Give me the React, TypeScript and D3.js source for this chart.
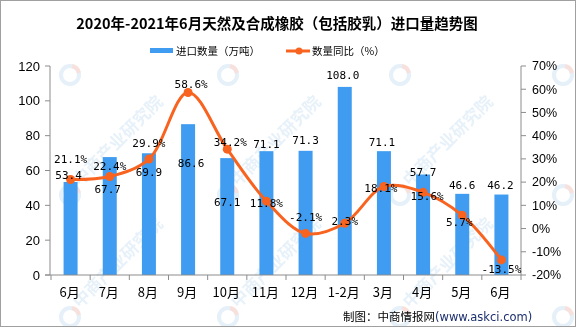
import React from "react";
import * as d3 from "d3";

const categories = ["6月", "7月", "8月", "9月", "10月", "11月", "12月", "1-2月", "3月", "4月", "5月", "6月"];
const importVolume = [53.4, 67.7, 69.9, 86.6, 67.1, 71.1, 71.3, 108.0, 71.1, 57.7, 46.6, 46.2];
const yoyPct = [21.1, 22.4, 29.9, 58.6, 34.2, 11.8, -2.1, 2.3, 18.1, 15.6, 5.7, -13.5];
const leftTicks = [0, 20, 40, 60, 80, 100, 120];
const rightTicks = [-20, -10, 0, 10, 20, 30, 40, 50, 60, 70];
// label placement offsets (px) to mimic reference anti-overlap placement
const barLabelDy = [-7, 32, 19, 39, 44, -7, -11, -12, -9, -2, -9, -9];
const lineLabelDy = [-20, -10, -16, -8, -7, 2, -16, -2, 2, 4, 7, 9];
const lineLabelDx = [0, 0, 0, 3, 3, 0, 0, 0, -3, 4, -3, 0];
const barLabelDx = [-2, -2, 0, 3, 0, 0, 0, -2, -2, 0, 0, -1];

const W = 576;
const H = 327;
const M = { left: 50, right: 521, top: 66, bottom: 275 };
const BLUE = "#3f9cf0";
const ORANGE = "#f8631f";
const AXIS = "#8c8c8c";

export default function App() {
  const x = d3.scaleBand<string>().domain(categories.map((c, i) => i + "")).range([M.left + 1, M.right]).padding(0);
  const yL = d3.scaleLinear().domain([0, 120]).range([M.bottom, M.top]);
  const yR = d3.scaleLinear().domain([-20, 70]).range([M.bottom, M.top]);
  const bw = 14;
  const cx = (i: number) => (x(i + "") as number) + x.bandwidth() / 2;

  const line = d3
    .line<number>()
    .x((_, i) => cx(i))
    .y((d) => yR(d))
    .curve(d3.curveCatmullRom.alpha(0.5));

  const wmRows = [75, 195, 317];
  const wmCols = [70, 228, 400, 563];
  const logos: { x: number; y: number; txt: boolean }[] = [];
  wmRows.forEach((r) =>
    wmCols.forEach((c) => logos.push({ x: c, y: r, txt: r > 100 && c < 500 }))
  );

  const monoFont = "'DejaVu Sans Mono', monospace";
  const cjk = "'Noto Sans CJK SC', sans-serif";

  return (
    <div style={{ position: "absolute", left: 0, top: 0 }}>
      <svg width={W} height={H} style={{ display: "block", background: "#fff" }}>
        {/* watermarks */}
        <g opacity={0.55}>
          {logos.map((p, i) => (
            <g key={i} transform={`translate(${p.x},${p.y})`}>
              <circle cx={0} cy={0} r={9} fill="none" stroke="#cfe3f4" strokeWidth={4} />
              <path d="M 2 -9 A 9 9 0 0 1 9 -2" stroke="#f3c9c0" strokeWidth={4} fill="none" />
              {p.txt && (
                <text
                  transform="translate(10,-8) rotate(-45)"
                  fontFamily={cjk}
                  fontSize={17}
                  fontWeight="bold"
                  fill="#d4e6f5"
                >
                  中商产业研究院
                </text>
              )}
            </g>
          ))}
        </g>

        {/* title */}
        <text x={277} y={29} textAnchor="middle" fontFamily={cjk} fontWeight="bold" fontSize={14.5} fill="#000">
          2020年-2021年6月天然及合成橡胶（包括胶乳）进口量趋势图
        </text>

        {/* legend */}
        <rect x={150} y={48} width={23} height={5} fill={BLUE} />
        <text x={176} y={55} fontFamily={cjk} fontSize={10.5} fill="#000">
          进口数量（万吨）
        </text>
        <line x1={286} x2={310} y1={51} y2={51} stroke={ORANGE} strokeWidth={3} />
        <circle cx={299} cy={51} r={3.5} fill={ORANGE} />
        <text x={312} y={55} fontFamily={cjk} fontSize={10.5} fill="#000">
          数量同比（%）
        </text>

        {/* bars */}
        {importVolume.map((v, i) => (
          <rect key={i} x={cx(i) - bw / 2} y={yL(v)} width={bw} height={M.bottom - yL(v)} fill={BLUE} />
        ))}

        {/* axes */}
        <line x1={M.left} x2={M.left} y1={M.top} y2={M.bottom} stroke={AXIS} />
        {leftTicks.map((t) => (
          <g key={t}>
            <line x1={M.left - 5} x2={M.left} y1={yL(t)} y2={yL(t)} stroke={AXIS} />
            <text x={M.left - 10} y={yL(t)} dy="0.35em" textAnchor="end" fontFamily="'Liberation Sans', Arial" fontSize={13} fill="#000">
              {t}
            </text>
          </g>
        ))}
        <line x1={M.right} x2={M.right} y1={M.top} y2={M.bottom} stroke={AXIS} />
        {rightTicks.map((t) => (
          <g key={t}>
            <line x1={M.right} x2={M.right + 5} y1={yR(t)} y2={yR(t)} stroke={AXIS} />
            <text x={M.right + 11} y={yR(t)} dy="0.35em" textAnchor="start" fontFamily="'Liberation Sans', Arial" fontSize={12.5} fill="#000">
              {t}%
            </text>
          </g>
        ))}
        <line x1={M.left - 5} x2={M.right} y1={M.bottom} y2={M.bottom} stroke={AXIS} />
        {categories.map((_, i) => (
          <line key={i} x1={x(i + "") as number} x2={x(i + "") as number} y1={M.bottom} y2={M.bottom + 5} stroke={AXIS} />
        ))}
        <line x1={M.right} x2={M.right} y1={M.bottom} y2={M.bottom + 5} stroke={AXIS} />
        {categories.map((c, i) => (
          <text key={i} x={cx(i) - 1} y={297} textAnchor="middle" fontFamily={cjk} fontSize={13} fill="#000">
            {c}
          </text>
        ))}

        {/* line */}
        <path d={line(yoyPct) || ""} fill="none" stroke={ORANGE} strokeWidth={3} />
        {yoyPct.map((v, i) => (
          <circle key={i} cx={cx(i)} cy={yR(v)} r={4.5} fill={ORANGE} />
        ))}

        {/* bar labels */}
        {importVolume.map((v, i) => (
          <text
            key={i}
            x={cx(i) + barLabelDx[i]}
            y={yL(v) + barLabelDy[i]}
            dy="0.35em"
            textAnchor="middle"
            fontFamily={monoFont}
            fontSize={11}
            fill="#000"
          >
            {v.toFixed(1)}
          </text>
        ))}
        {/* line labels */}
        {yoyPct.map((v, i) => (
          <text
            key={i}
            x={cx(i) + lineLabelDx[i]}
            y={yR(v) + lineLabelDy[i]}
            dy="0.35em"
            textAnchor="middle"
            fontFamily={monoFont}
            fontSize={11}
            fill="#000"
          >
            {v.toFixed(1)}%
          </text>
        ))}

        {/* footer */}
        <text x={343} y={321} fontFamily={cjk} fontSize={11.5} fill="#000">
          制图：中商情报网
          <tspan fontFamily="'DejaVu Sans', sans-serif" fontSize={11.5} fill="#1c2f6e">(www.askci.com)</tspan>
        </text>

        <rect x={0.5} y={0.5} width={W - 1} height={H - 1} fill="none" stroke="#a0a0a0" />
      </svg>
    </div>
  );
}
